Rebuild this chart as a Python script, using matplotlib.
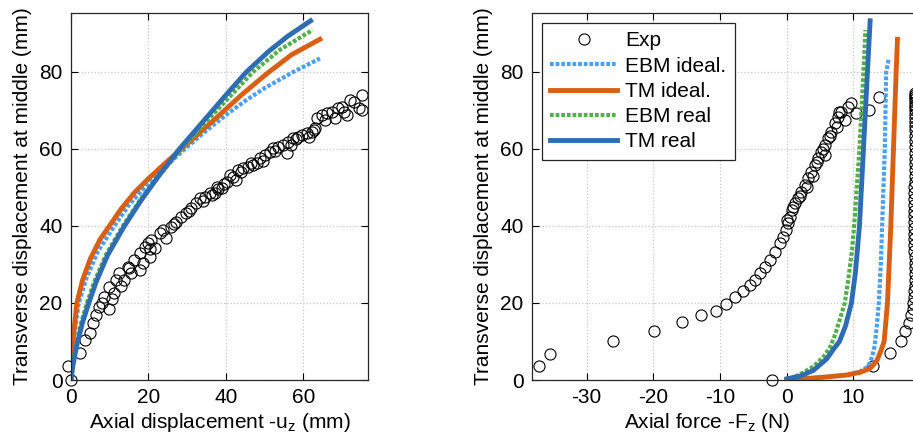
import matplotlib
matplotlib.use("Agg")
import matplotlib.pyplot as plt

plt.rcParams['font.family'] = ['Liberation Sans', 'DejaVu Sans']
plt.rcParams['font.size'] = 15
plt.rcParams['axes.unicode_minus'] = False
plt.rcParams['mathtext.fontset'] = 'custom'
plt.rcParams['mathtext.rm'] = 'Liberation Sans'

# ---- left panel data: transverse displacement vs axial displacement ----
exp_u = [0, -0.8, 2.2, 4.9, 5.6, 6.5, 7.3, 9.9, 8.6, 9.9, 11.2, 11.7, 12.5, 13.8, 14.7,
         15.5, 16.4, 17.7, 17.7, 19.0, 20.3, 20.7, 21.6, 22.9, 23.7, 25.9, 27.2, 28.5,
         29.8, 31.1, 32.4, 33.2, 34.5, 35.8, 37.1, 37.6, 38.9, 40.2, 41.0, 41.9, 43.2,
         44.5, 45.8, 46.6, 48.0, 48.8, 50.1, 51.4, 52.2, 53.5, 54.8, 55.7, 56.1, 57.4,
         58.7, 59.6, 60.9, 62.2, 63.0, 63.5, 64.8, 66.1, 67.4, 68.2, 69.1, 69.9, 71.2,
         72.1, 73.0, 74.3, 75.1, 75.1,
         3.5, 8.0, 10.5, 13.0, 15.0, 18.5, 19.8, 20.5, 24.5, 26.5, 30.5, 34.0, 36.5,
         38.0, 39.5, 42.5, 44.0, 47.0, 49.5, 52.8, 56.8, 58.0, 61.5, 62.8, 65.5, 70.5]
exp_y = [0, 3.7, 7.1, 12.1, 14.7, 16.9, 19.0, 18.4, 21.6, 24.2, 22.5, 26.0, 27.7, 26.0, 29.4,
         27.7, 31.2, 28.6, 32.9, 34.6, 32.0, 36.4, 34.2, 38.1, 39.0, 39.8, 41.1, 42.4,
         43.3, 44.6, 45.9, 47.2, 47.6, 48.5, 48.5, 50.2, 49.8, 51.5, 53.2, 52.8, 54.5,
         55.0, 55.4, 56.3, 56.3, 57.6, 58.4, 59.3, 60.2, 60.6, 61.0, 58.9, 61.9, 62.8,
         63.2, 63.6, 64.1, 64.5, 65.4, 68.0, 68.8, 69.3, 69.7, 68.0, 70.6, 71.0, 68.8,
         72.7, 72.3, 70.6, 70.1, 74.0,
         10.5, 20.0, 21.0, 24.5, 29.0, 30.5, 35.5, 34.0, 37.0, 40.5, 44.0, 46.5, 48.0,
         49.5, 51.0, 52.0, 54.0, 55.8, 57.0, 59.5, 61.0, 62.5, 63.0, 64.9, 67.5, 69.5]

ebm_ideal_u = [0, 0.2, 0.7, 2, 4, 7, 11.2, 15, 20, 25, 29.4, 35, 40, 45, 50, 57.4, 64.3]
ebm_ideal_y = [0, 5, 10.5, 20, 26.5, 33.5, 40, 45.5, 51, 56, 60, 64.8, 68.8, 72.5, 75.8,
               80, 83.5]
tm_ideal_u = [0, 0.2, 0.6, 1.5, 3, 5, 7.5, 9.9, 13, 16.5, 20, 24, 28.5, 33, 38, 44, 50.5,
              57, 64.3]
tm_ideal_y = [0, 6, 11, 20, 26, 31.5, 36.5, 40, 44.5, 48.8, 52.3, 56, 60, 64, 68.5, 74,
              79.5, 84.5, 88.5]
ebm_real_u = [0, 0.5, 1.5, 2.8, 4.1, 6, 9, 13.4, 18, 23, 28.5, 34, 40, 47, 54, 62.4]
ebm_real_y = [0, 4.5, 10, 15.5, 20, 25.5, 32.5, 40, 47, 53.3, 60, 66.2, 72.5, 80, 85.8, 90.9]
tm_real_u = [0, 0.5, 1.5, 3, 4.6, 6.5, 9.5, 13.8, 18, 23, 28, 34, 40, 45.3, 51, 56, 61.9]
tm_real_y = [0, 3.8, 9, 15, 20, 25.5, 32.5, 40, 46.5, 53.5, 60, 67, 74, 80, 85.3, 89.3, 93.3]

# ---- right panel data: transverse displacement vs axial force ----
exp_F = [-37.1, -35.5, -26.0, -19.9, -15.7, -12.8, -10.6, -9.1, -7.7, -6.5, -5.5, -4.7,
         -3.96, -3.2, -2.5, -1.7, -1.0, -0.5, -0.1, 0.25, 0.5, 0.74, 1.2, 1.7, 2.2, 2.7,
         3.2, 3.7, 4.2, 4.7, 5.2, 5.7, 5.7, 6.2, 6.7, 7.2, 7.7, 7.9, 8.7, 9.2, 9.7, 10.4,
         12.3, 13.8, -2.2,
         0.0, 1.0, 2.0, 3.0, 4.0, 4.5, 5.5, 6.5, 7.5, 8.2,
         12.9, 15.5, 17.1, 17.8, 18.3, 18.7, 18.9, 19.0, 19.1, 19.1, 19.2, 19.2, 19.2,
         19.2, 19.2, 19.2, 19.1, 19.1, 19.1, 19.1, 19.1, 19.1, 19.1, 19.1, 19.1, 19.1,
         19.1, 19.1, 19.2, 19.2, 19.2, 19.2, 19.2, 19.2, 19.2, 19.2, 19.2, 19.2, 19.2,
         19.2, 19.2, 19.2, 19.2, 19.2, 19.2, 19.2, 19.2, 19.2, 19.2, 19.2]
exp_yF = [3.6, 6.7, 10.0, 12.7, 15.0, 16.9, 18.0, 19.7, 21.6, 23.2, 24.7, 26.0,
          27.7, 29.4, 31.2, 33.3, 35.5, 37.2, 39.0, 40.7, 42.4, 44.2, 45.9, 47.2, 48.9, 50.6,
          52.4, 54.1, 55.8, 57.6, 59.3, 58.4, 61.0, 62.8, 64.5, 66.7, 68.4, 69.7, 67.5, 71.0,
          71.9, 69.3, 70.1, 73.4, 0.0,
          41.5, 45.0, 47.8, 50.0, 53.0, 56.5, 60.0, 63.5, 65.8, 69.5,
          3.6, 7.1, 10.0, 12.6, 14.7, 16.9, 18.5, 20.0, 21.5, 23.0, 24.5, 26.0, 27.5,
          29.0, 30.5, 32.0, 33.5, 35.0, 36.5, 38.0, 39.5, 41.0, 42.5, 44.0, 45.5, 47.0,
          48.5, 50.0, 51.5, 53.0, 54.5, 56.0, 57.5, 59.0, 60.5, 62.0, 63.5, 65.0, 66.0,
          67.0, 68.0, 69.0, 70.0, 70.8, 71.5, 72.2, 72.9, 73.5, 74.0, 74.5]

ebm_ideal_F = [0, 3, 6, 9, 11, 12.2, 12.8, 13.2, 13.5, 13.8, 14.1, 14.3, 14.5, 14.7, 14.8,
               14.9, 15.3]
ebm_ideal_yF = [0, 0.3, 0.8, 1.3, 2.2, 3.5, 6, 9, 14, 20, 30, 40, 50, 60, 70, 80, 83.5]
tm_ideal_F = [0, 3, 6, 9, 11, 12.5, 13.5, 14.1, 14.6, 15.1, 15.6, 16.0, 16.4, 16.6]
tm_ideal_yF = [0, 0.4, 0.8, 1.3, 2, 3, 5, 7.5, 10, 20, 40, 60, 80, 88.5]
ebm_real_F = [0.5, 2, 4, 5.5, 6.5, 7.3, 8.0, 8.7, 9.3, 9.8, 10.1, 10.5, 10.9, 11.2, 11.5,
              11.8]
ebm_real_yF = [0.3, 1.5, 3.5, 6, 8.5, 12, 16, 20, 27, 34, 40, 50, 60, 70, 80, 90.9]
tm_real_F = [0, 2, 4, 6, 7, 7.9, 8.8, 9.7, 10.3, 10.9, 11.2, 11.5, 11.8, 12.1, 12.5]
tm_real_yF = [0.3, 1, 2.5, 5.5, 8, 10, 14, 20, 28, 40, 50, 60, 70, 80, 93.3]

c_ebm_ideal = '#4da0ee'
c_tm_ideal = '#d95f14'
c_ebm_real = '#52b048'
c_tm_real = '#2f6db3'
dots = (0, (0.9, 0.45))

W, H = 913, 441
fig = plt.figure(figsize=(W / 100, H / 100), dpi=100)
ax1 = fig.add_axes([71 / W, 61 / H, 297.3 / W, 367.3 / H])
ax2 = fig.add_axes([532 / W, 61 / H, 421.5 / W, 367.3 / H])


def style(ax):
    ax.grid(True, linestyle=':', color='#c8c8c8', linewidth=0.9)
    ax.set_axisbelow(True)
    ax.tick_params(direction='in', top=True, right=True, length=5, width=0.8, pad=6,
                   labelsize=15)
    for s in ax.spines.values():
        s.set_linewidth(0.9)
        s.set_color('#262626')


for ax, ex, ey, series in [
    (ax1, exp_u, exp_y, [(ebm_ideal_u, ebm_ideal_y), (tm_ideal_u, tm_ideal_y),
                         (ebm_real_u, ebm_real_y), (tm_real_u, tm_real_y)]),
    (ax2, exp_F, exp_yF, [(ebm_ideal_F, ebm_ideal_yF), (tm_ideal_F, tm_ideal_yF),
                          (ebm_real_F, ebm_real_yF), (tm_real_F, tm_real_yF)]),
]:
    ax.plot(ex, ey, 'o', mfc='none', mec='black', mew=0.8, ms=8, clip_on=False,
            label='Exp')
    ax.plot(*series[0], color=c_ebm_ideal, lw=3, linestyle=dots, label='EBM ideal.')
    ax.plot(*series[1], color=c_tm_ideal, lw=3.5, label='TM ideal.')
    ax.plot(*series[2], color=c_ebm_real, lw=3, linestyle=dots, label='EBM real')
    ax.plot(*series[3], color=c_tm_real, lw=3.5, label='TM real')
    style(ax)
    ax.set_ylim(0, 95.4)
    ax.set_yticks([0, 20, 40, 60, 80])
    ax.set_ylabel('Transverse displacement at middle (mm)', labelpad=5)

ax1.set_xlim(0, 76.8)
ax1.set_xticks([0, 20, 40, 60])
ax1.set_xlabel(r'Axial displacement -u$_\mathregular{z}$ (mm)', labelpad=3)

ax2.set_xlim(-38.2, 25)
ax2.set_xticks([-30, -20, -10, 0, 10])
ax2.set_xlabel(r'Axial force -F$_\mathregular{z}$ (N)', labelpad=3)
ax2.xaxis.label.set_x((707 - 532) / 421.5)

leg = ax2.legend(loc='upper left', bbox_to_anchor=(542 / W, 1 - 23 / H),
                 bbox_transform=fig.transFigure, borderaxespad=0, fontsize=15,
                 labelspacing=0.3, handlelength=3.2, handletextpad=0.4,
                 borderpad=0.4, fancybox=False, framealpha=1)
leg.get_frame().set_edgecolor('#262626')
leg.get_frame().set_linewidth(0.9)

fig.savefig('out.png', dpi=100)
